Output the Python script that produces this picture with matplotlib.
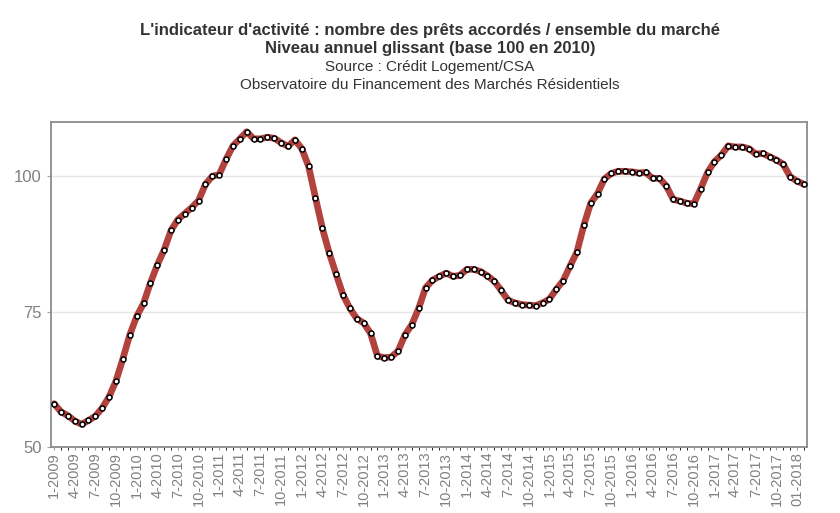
import matplotlib
matplotlib.use("Agg")
import matplotlib.pyplot as plt
import numpy as np

plt.rcParams['font.family'] = ['Liberation Sans', 'DejaVu Sans']

# indice mensuel, janvier 2009 -> fevrier 2018
values = [58.0, 56.5, 55.8, 54.8, 54.2, 54.9, 55.7, 57.2, 59.3, 62.2,
          66.3, 70.7, 74.1, 76.5, 80.3, 83.6, 86.4, 90.0, 92.0, 93.1,
          94.2, 95.5, 98.5, 100.0, 100.3, 103.1, 105.6, 106.9, 108.2, 106.9,
          106.9, 107.2, 107.0, 106.2, 105.5, 106.7, 105.1, 101.8, 96.0, 90.4,
          85.8, 81.9, 78.1, 75.6, 73.7, 72.9, 71.0, 66.8, 66.5, 66.6,
          67.7, 70.7, 72.6, 75.6, 79.4, 80.8, 81.5, 82.1, 81.5, 81.7,
          82.8, 82.8, 82.4, 81.6, 80.6, 78.9, 77.1, 76.6, 76.3, 76.2,
          76.1, 76.6, 77.3, 79.1, 80.7, 83.4, 86.0, 90.9, 95.0, 96.8,
          99.5, 100.5, 100.9, 100.9, 100.8, 100.6, 100.7, 99.6, 99.6, 98.2,
          95.7, 95.4, 95.0, 94.9, 97.7, 100.7, 102.7, 103.9, 105.6, 105.4,
          105.4, 105.1, 104.1, 104.2, 103.6, 103.0, 102.2, 99.9, 99.1, 98.5]

tick_labels = []
for y in range(2009, 2018):
    for m in (1, 4, 7, 10):
        tick_labels.append(f"{m}-{y}")
tick_labels.append("01-2018")

x = np.arange(len(values))

fig = plt.figure(figsize=(8.4, 5.13), dpi=100)
ax = fig.add_axes([51/840, 1-447/513, 756/840, 325/513])

ax.plot(x, values, color='#b2423e', lw=4.8, solid_capstyle='round', zorder=2)
ax.plot(x, values, ls='none', marker='o', ms=3.6, mfc='white', mec='black', mew=1.1, zorder=3)

ax.set_xlim(-0.45, len(values) - 0.55)
ax.set_ylim(50, 110)
ax.set_yticks([50, 75, 100])
ax.set_xticks(x[::3][:len(tick_labels)])
ax.set_xticklabels(tick_labels, rotation=90)
ax.set_xticks(x, minor=True)
ax.grid(axis='y', color='#e6e6e6', lw=1)
ax.set_axisbelow(True)
for s in ax.spines.values():
    s.set_color('#8c8c8c')
    s.set_linewidth(1.3)
ax.tick_params(axis='both', colors='#a0a0a0', labelcolor='#808080', labelsize=10.5)
ax.tick_params(axis='x', which='both', length=2, pad=1.5)
ax.tick_params(axis='y', length=3, labelsize=12)

cx = 430 / 840
fig.text(cx, 1-30/513, "L'indicateur d'activité : nombre des prêts accordés / ensemble du marché",
         ha='center', va='center', fontsize=12, fontweight='bold', color='#333333')
fig.text(cx, 1-49/513, "Niveau annuel glissant (base 100 en 2010)",
         ha='center', va='center', fontsize=12, fontweight='bold', color='#333333')
fig.text(cx, 1-67/513, "Source : Crédit Logement/CSA",
         ha='center', va='center', fontsize=11, color='#333333')
fig.text(cx, 1-85/513, "Observatoire du Financement des Marchés Résidentiels",
         ha='center', va='center', fontsize=11, color='#333333')

fig.savefig("out.png", dpi=100)
